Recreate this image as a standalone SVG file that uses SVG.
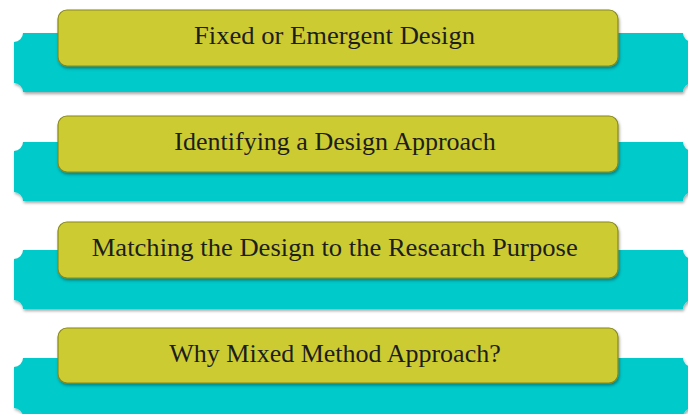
<svg xmlns="http://www.w3.org/2000/svg" width="688" height="414" viewBox="0 0 688 414">
<defs>
<filter id="sh" x="-5%" y="-20%" width="110%" height="150%">
<feDropShadow dx="1" dy="2" stdDeviation="1.5" flood-color="#000" flood-opacity="0.35"/>
</filter>
<path id="band" d="M23,0 H683 A9 9 0 0 0 692 9 V50 A9 9 0 0 0 683 59 H23 A9 9 0 0 0 14 50 V9 A9 9 0 0 0 23 0 Z"/>
</defs>
<style>
.band{fill:#02CACA;filter:url(#sh)}
.box{fill:#CCCC33;stroke:#87871C;stroke-width:1.2;filter:url(#sh)}
.lbl{font-size:26px;fill:#1e1e1e;text-anchor:middle}
</style>
<rect width="688" height="414" fill="#fff"/>
<g id="node1">
<use href="#band" class="band" transform="translate(0,33)"/>
<rect class="box" x="58" y="10" width="560" height="56" rx="9"/>
<text class="lbl" font-family="'Liberation Serif', serif" x="334.5" y="44.3" textLength="281" lengthAdjust="spacingAndGlyphs">Fixed or Emergent Design</text>
</g>
<g id="node2">
<use href="#band" class="band" transform="translate(0,142)"/>
<rect class="box" x="58" y="116" width="560" height="56" rx="9"/>
<text class="lbl" font-family="'Liberation Serif', serif" x="335" y="150.3">Identifying a Design Approach</text>
</g>
<g id="node3">
<use href="#band" class="band" transform="translate(0,250)"/>
<rect class="box" x="58" y="222" width="560" height="56" rx="9"/>
<text class="lbl" font-family="'Liberation Serif', serif" x="334.7" y="256.3" textLength="486" lengthAdjust="spacingAndGlyphs">Matching the Design to the Research Purpose</text>
</g>
<g id="node4">
<use href="#band" class="band" transform="translate(0,358)"/>
<rect class="box" x="58" y="328" width="560" height="55" rx="9"/>
<text class="lbl" font-family="'Liberation Serif', serif" x="335" y="361.8">Why Mixed Method Approach?</text>
</g>
</svg>
